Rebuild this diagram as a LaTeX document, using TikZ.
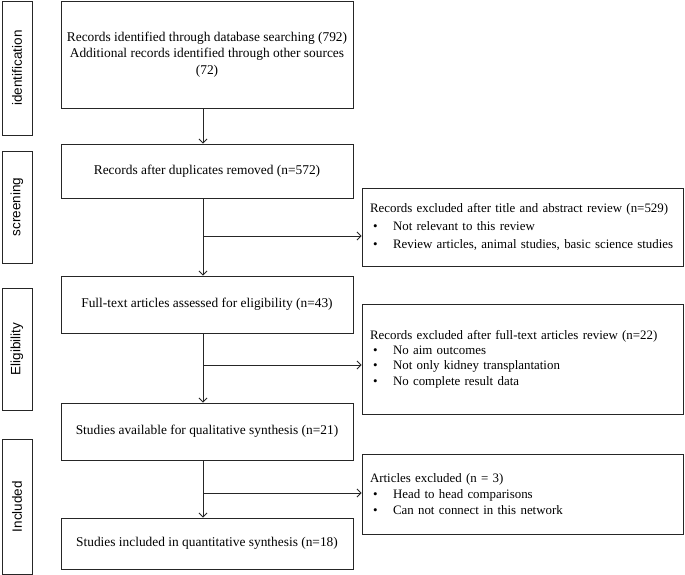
\documentclass[tikz,border=0pt]{standalone}
\usepackage{fontspec}
\setmainfont{Liberation Serif}
\setsansfont{Liberation Sans}
\usetikzlibrary{arrows.meta}
\newcommand{\bul}{\hspace*{3pt}\makebox[20pt][l]{\textbullet}}
\begin{document}
\begin{tikzpicture}[x=1pt,y=-1pt,
  box/.style={draw=black!85, line width=0.9pt, inner sep=0pt},
  mainbox/.style={box, minimum width=292pt, align=center, font=\fontsize{13.4}{16.5}\selectfont},
  sidebox/.style={box, rotate=90, minimum height=30pt, font=\sffamily\fontsize{13.5}{16}\selectfont},
  exbox/.style={box, text width=305pt, inner xsep=8pt, align=left},
  arr/.style={draw=black!85, line width=0.9pt, -{Straight Barb[length=4pt,width=8pt]}}
]
\useasboundingbox (0,0) rectangle (685,575);
% side labels
\node[sidebox, minimum width=134pt] (s1) at (17,68) {identification};
\node[sidebox, minimum width=112pt] (s2) at (17,207) {screening};
\node[sidebox, minimum width=122pt] (s3) at (17,349) {Eligibility};
\node[sidebox, minimum width=135pt] (s4) at (17,506.5) {Included};
% main boxes
\node[mainbox, minimum height=107pt] (b1) at (207,54.5) {Records identified through database searching (792)\\Additional records identified through other sources\\(72)};
\node[mainbox, minimum height=54pt] (b2) at (207,171) {Records after duplicates removed (n=572)};
\node[mainbox, minimum height=57pt] (b3) at (207,304.5) {Full-text articles assessed for eligibility (n=43)};
\node[mainbox, minimum height=57pt] (b4) at (207,431.5) {Studies available for qualitative synthesis (n=21)};
\node[mainbox, minimum height=51pt] (b5) at (207,543.5) {Studies included in quantitative synthesis (n=18)};
% exclusion boxes
\node[exbox, minimum height=78pt, font=\fontsize{12.9}{18}\selectfont] (r1) at (522.5,227) {\mbox{Records excluded after title and abstract review (n=529)}\\\mbox{\bul Not relevant to this review}\\\mbox{\bul Review articles, animal studies, basic science studies}};
\node[exbox, minimum height=110pt, font=\fontsize{12.9}{15.3}\selectfont] (r2) at (522.5,359) {\mbox{Records excluded after full-text articles review (n=22)}\\\mbox{\bul No aim outcomes}\\\mbox{\bul Not only kidney transplantation}\\\mbox{\bul No complete result data}};
\node[exbox, minimum height=80pt, font=\fontsize{12.9}{16}\selectfont] (r3) at (522.5,494) {\mbox{Articles excluded (n = 3)}\\\mbox{\bul Head to head comparisons}\\\mbox{\bul Can not connect in this network}};
% connectors
\coordinate (ax) at (203,0);
\draw[arr] (b1.south -| ax) -- (b2.north -| ax);
\draw[arr] (b2.south -| ax) -- (b3.north -| ax);
\draw[arr] (b3.south -| ax) -- (b4.north -| ax);
\draw[arr] (b4.south -| ax) -- (b5.north -| ax);
\coordinate (h1) at (203,236);
\coordinate (h2) at (203,365);
\coordinate (h3) at (203,493);
\draw[arr] (h1) -- (h1 -| r1.west);
\draw[arr] (h2) -- (h2 -| r2.west);
\draw[arr] (h3) -- (h3 -| r3.west);
\end{tikzpicture}
\end{document}
